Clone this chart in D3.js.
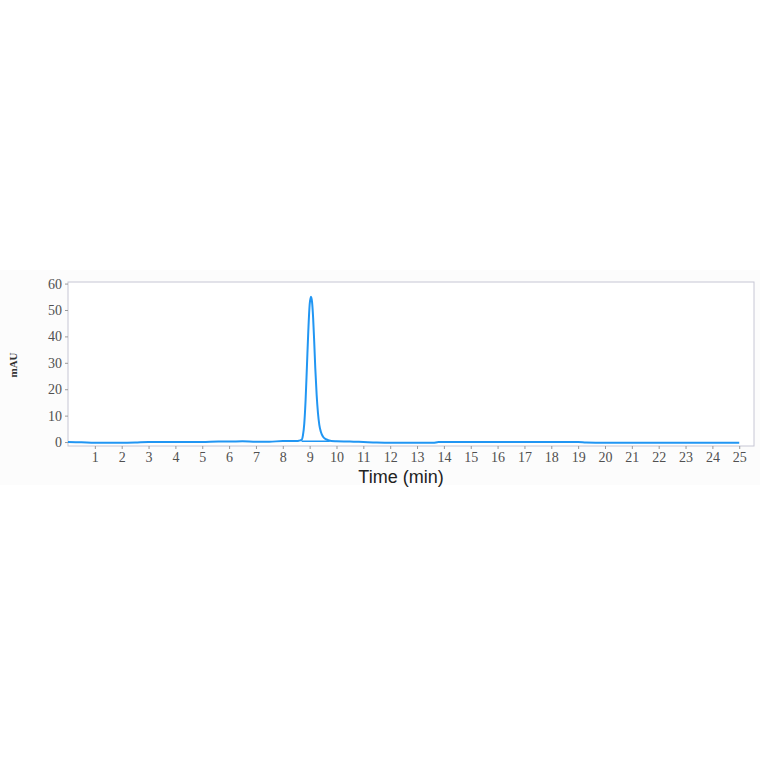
<!DOCTYPE html>
<html>
<head>
<meta charset="utf-8">
<script src="https://cdn.jsdelivr.net/npm/d3@7"></script>
<style>
  body { margin: 0; background: #fff; }
</style>
</head>
<body>
<svg id="chart"></svg>
<script>
const width = 764;
const height = 764;

// chromatogram trace (time in min, signal in mAU)
const times = [0, 0.5, 1, 1.5, 2, 2.5, 3, 4, 5, 5.6, 6, 6.5, 7, 7.5, 8, 8.5, 8.6, 8.7,
  8.75, 8.8, 8.85, 8.9, 8.95, 9.0, 9.05, 9.09, 9.13, 9.17, 9.21, 9.26, 9.31, 9.36, 9.42,
  9.5, 9.6, 9.7, 9.8, 10, 10.5, 11, 11.5, 12, 13, 13.6, 13.8, 15, 16, 17, 18, 19,
  19.3, 20, 21, 22, 23, 24, 25];
const signal = [0, -0.1, -0.3, -0.3, -0.3, -0.2, 0, 0, 0, 0.2, 0.2, 0.3, 0.1, 0.1, 0.4, 0.4, 0.5, 0.8,
  2.5, 7, 16, 29, 42, 52, 55, 53, 47, 38, 28, 18, 11, 6.5, 3.8,
  2.0, 1.1, 0.7, 0.4, 0.3, 0.2, 0, -0.2, -0.3, -0.3, -0.3, 0, 0, 0, 0, 0, 0,
  -0.2, -0.3, -0.3, -0.3, -0.3, -0.3, -0.3];

// integration baseline under the peak
const baseTimes = [8.7, 9.75];
const baseSignal = [0.3, 0.3];

const xTicks = d3.range(1, 26);
const yTicks = [0, 10, 20, 30, 40, 50, 60];

const margin = { left: 68, top: 282, right: 10, bottom: 318 };
const plotW = width - margin.left - margin.right;
const plotH = height - margin.top - margin.bottom;

const svg = d3.select("#chart").attr("width", width).attr("height", height);

// faint panel behind the chart
svg.append("rect")
    .attr("x", 0).attr("y", 270)
    .attr("width", 760).attr("height", 215)
    .attr("fill", "#fcfcfc");

const x = d3.scaleLinear().domain([0, 25.55]).range([0, plotW]);
const y = d3.scaleLinear().domain([-1.5, 60.6]).range([plotH, 0]);

const g = svg.append("g").attr("transform", `translate(${margin.left},${margin.top})`);

g.append("rect")
    .attr("width", plotW).attr("height", plotH)
    .attr("fill", "#fff")
    .attr("stroke", "#c6c6d4")
    .attr("stroke-width", 1);

const xAxis = g.append("g")
    .attr("transform", `translate(0,${plotH})`)
    .call(d3.axisBottom(x).tickValues(xTicks).tickSize(3).tickPadding(3).tickFormat(d3.format("d")));
xAxis.select(".domain").remove();

const yAxis = g.append("g")
    .call(d3.axisLeft(y).tickValues(yTicks).tickSize(3).tickPadding(3));
yAxis.select(".domain").remove();

g.selectAll(".tick line").attr("stroke", "#999");
g.selectAll(".tick text")
    .attr("fill", "#505050")
    .style("font-family", "'Liberation Serif', serif")
    .style("font-size", "14px");

const trace = times.map((t, i) => [t, signal[i]]);
const base = baseTimes.map((t, i) => [t, baseSignal[i]]);

const line = d3.line().x(d => x(d[0])).y(d => y(d[1]));

g.append("path")
    .datum(base)
    .attr("d", line)
    .attr("fill", "none")
    .attr("stroke", "#2196f3")
    .attr("stroke-width", 1.5);

g.append("path")
    .datum(trace)
    .attr("d", line.curve(d3.curveMonotoneX))
    .attr("fill", "none")
    .attr("stroke", "#2196f3")
    .attr("stroke-width", 2);

svg.append("text")
    .attr("transform", "translate(17,365) rotate(-90)")
    .attr("text-anchor", "middle")
    .style("font-family", "'Liberation Serif', serif")
    .style("font-size", "11px")
    .style("font-weight", "bold")
    .attr("fill", "#333")
    .text("mAU");

svg.append("text")
    .attr("x", 401).attr("y", 483)
    .attr("text-anchor", "middle")
    .style("font-family", "'Liberation Sans', Arial, sans-serif")
    .style("font-size", "18px")
    .attr("fill", "#222")
    .text("Time (min)");
</script>
</body>
</html>
